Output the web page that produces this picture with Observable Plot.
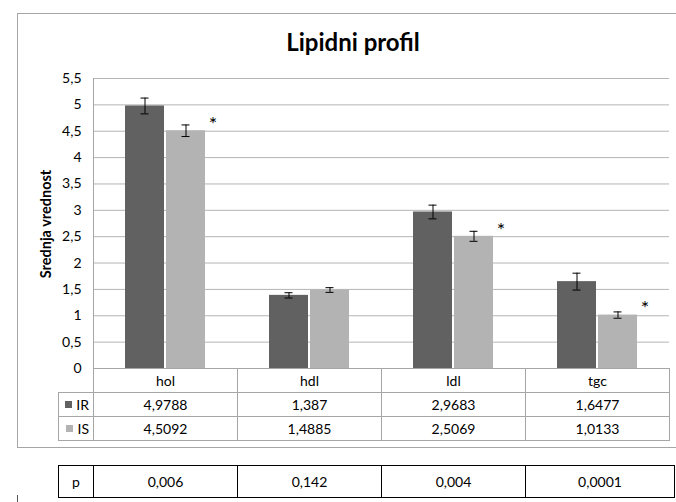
<!DOCTYPE html>
<html>
<head>
<meta charset="utf-8">
<script src="https://cdn.jsdelivr.net/npm/d3@7"></script>
<script src="https://cdn.jsdelivr.net/npm/@observablehq/plot@0.6"></script>
<style>
html, body { margin: 0; padding: 0; background: #fff; overflow: hidden; }
#root { position: relative; width: 676px; height: 502px; overflow: hidden; font-family: Lato, "Open Sans", sans-serif; color: #000; }
#frame { position: absolute; left: 17px; top: 13px; width: 720px; height: 435px; border: 1px solid #a6a6a6; box-sizing: border-box; }
#title { position: absolute; left: 203px; width: 300px; top: 28px; text-align: center; font-size: 24px; font-weight: bold; line-height: 28px; }
#ylabel { position: absolute; left: 45px; top: 224px; transform: translate(-50%, -50%) rotate(-90deg); font-size: 14.5px; font-weight: bold; white-space: nowrap; }
#root svg { position: absolute; left: 0; top: 0; }
.cell { position: absolute; box-sizing: border-box; display: flex; align-items: center; justify-content: center; font-size: 14px; }
.line { position: absolute; }
</style>
</head>
<body>
<div id="root">
  <div id="frame"></div>
  <div id="title">Lipidni profil</div>
  <div id="ylabel">Srednja vrednost</div>
</div>
<script>
const categories = ["hol", "hdl", "ldl", "tgc"];
const series = ["IR", "IS"];
const irValues = [4.9788, 1.387, 2.9683, 1.6477];
const isValues = [4.5092, 1.4885, 2.5069, 1.0133];
const irLabels = ["4,9788", "1,387", "2,9683", "1,6477"];
const isLabels = ["4,5092", "1,4885", "2,5069", "1,0133"];
const irErrors = [0.15, 0.05, 0.13, 0.16];
const isErrors = [0.11, 0.045, 0.095, 0.06];
const pLabels = ["0,006", "0,142", "0,004", "0,0001"];
const significance = ["*", "", "*", "*"];
const yTicks = [0, 0.5, 1, 1.5, 2, 2.5, 3, 3.5, 4, 4.5, 5, 5.5];
const seriesColors = ["#616161", "#b3b3b3"];

const rows = categories.flatMap((c, i) => [
  {cat: c, series: "IR", value: irValues[i], err: irErrors[i]},
  {cat: c, series: "IS", value: isValues[i], err: isErrors[i]}
]);
const stars = categories.map((c, i) => ({cat: c, series: "IS", value: isValues[i], text: significance[i]})).filter(d => d.text);
const fmt = v => String(v).replace(".", ",");

const plot = Plot.plot({
  width: 676,
  height: 370,
  marginTop: 78,
  marginBottom: 2,
  marginLeft: 93,
  marginRight: 7,
  style: {background: "transparent", fontFamily: "Lato, sans-serif", fontSize: "14px", overflow: "visible", color: "#000"},
  fx: {domain: categories, padding: 0, axis: null},
  x: {domain: series, paddingInner: 0.05, paddingOuter: 0.75, axis: null},
  y: {domain: [0, 5.5], axis: null},
  color: {domain: series, range: seriesColors},
  marks: [
    Plot.gridY(yTicks, {stroke: "#b5b5b5", strokeOpacity: 1}),
    Plot.barY(rows, {fx: "cat", x: "series", y: "value", fill: "series"}),
    Plot.ruleX(rows, {fx: "cat", x: "series", y1: d => d.value - d.err, y2: d => d.value + d.err, stroke: "#000"}),
    Plot.tickY(rows, {fx: "cat", x: "series", y: d => d.value + d.err, stroke: "#000", insetLeft: 15.5, insetRight: 15.5}),
    Plot.tickY(rows, {fx: "cat", x: "series", y: d => d.value - d.err, stroke: "#000", insetLeft: 15.5, insetRight: 15.5}),
    Plot.text(stars, {fx: "cat", x: "series", y: "value", text: "text", dx: 27, dy: -6, fontSize: 20}),
    Plot.axisY(yTicks, {tickSize: 0, tickPadding: 12, tickFormat: fmt, label: null, fontSize: 14})
  ]
});
const root = document.getElementById("root");
root.appendChild(plot);

const fxs = plot.scale("fx");
const bw = fxs.bandwidth;
const colLeft = c => fxs.apply(c);
const plotLeft = colLeft(categories[0]);
const legendLeft = 58;

function cell(left, top, w, h, border, html) {
  const d = document.createElement("div");
  d.className = "cell";
  Object.assign(d.style, {left: left + "px", top: top + "px", width: w + "px", height: h + "px", border: "1px solid " + border});
  if (html != null) d.innerHTML = html;
  root.appendChild(d);
  return d;
}
function line(left, top, w, h, color) {
  const d = document.createElement("div");
  d.className = "line";
  Object.assign(d.style, {left: left + "px", top: top + "px", width: w + "px", height: h + "px", background: color});
  root.appendChild(d);
}

// vertical axis line
const yTop = plot.scale("y").apply(5.5);
line(plotLeft, yTop, 1, 368 - yTop, "#a6a6a6");

// data table
const gray = "#a6a6a6";
const rowH = 25;
const t0 = 368;
categories.forEach((c, i) => {
  const l = colLeft(c);
  cell(l, t0, bw + 1, rowH, gray, c);
  cell(l, t0 + rowH - 1, bw + 1, rowH, gray, irLabels[i]);
  cell(l, t0 + 2 * (rowH - 1), bw + 1, rowH, gray, isLabels[i]);
});
const legendHtml = (i) => `<span style="display:inline-block;width:7px;height:7px;background:${seriesColors[i]};margin-right:4px"></span>${series[i]}`;
[0, 1].forEach(i => {
  const d = cell(legendLeft, t0 + (i + 1) * (rowH - 1), plotLeft - legendLeft + 1, rowH, gray, legendHtml(i));
  d.style.justifyContent = "flex-end";
  d.style.paddingRight = "4px";
});

// p-value table
const pTop = 465, pH = 33;
cell(legendLeft, pTop, plotLeft - legendLeft + 1, pH, "#000", "p");
categories.forEach((c, i) => {
  const l = colLeft(c);
  const w = i === categories.length - 1 ? 675 - l : bw + 1;
  cell(l, pTop, w, pH, "#000", pLabels[i]);
});
line(17, 495, 1, 10, "#555");
</script>
</body>
</html>
